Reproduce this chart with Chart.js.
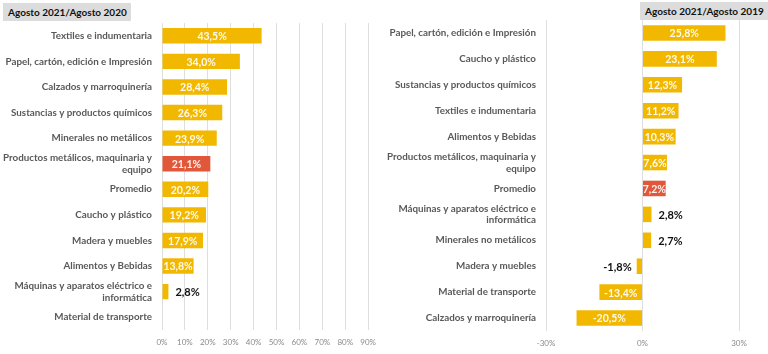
<!DOCTYPE html>
<html><head><meta charset="utf-8">
<script src="https://cdn.jsdelivr.net/npm/chart.js@4"></script>
<style>
html,body{margin:0;padding:0;background:#fff;}
#wrap{position:relative;width:768px;height:354px;overflow:hidden;font-family:Lato,"Open Sans",sans-serif;}
canvas{position:absolute;top:0;}
.ttl{position:absolute;background:#dcdcdc;color:#111;font:bold 10px Lato,sans-serif;line-height:18px;padding:0 5px;white-space:nowrap;z-index:2;}
</style></head><body>
<div id="wrap">
<canvas id="c1" width="384" height="354" style="left:0;width:384px;height:354px"></canvas>
<canvas id="c2" width="384" height="354" style="left:384px;width:384px;height:354px"></canvas>
<div class="ttl" id="t1" style="left:3px;top:3px;width:118px;">Agosto 2021/Agosto 2020</div>
<div class="ttl" id="t2" style="left:640px;top:2px;width:118px;">Agosto 2021/Agosto 2019</div>
</div>
<script>
const categories2020 = ["Textiles e indumentaria","Papel, cartón, edición e Impresión","Calzados y marroquinería","Sustancias y productos químicos","Minerales no metálicos",["Productos metálicos, maquinaria y","equipo"],"Promedio","Caucho y plástico","Madera y muebles","Alimentos y Bebidas",["Máquinas y aparatos eléctrico e","informática"],"Material de transporte"];
const values2020 = [43.5,34.0,28.4,26.3,23.9,21.1,20.2,19.2,17.9,13.8,2.8,null];
const highlight2020 = "Productos metálicos, maquinaria y";

const categories2019 = ["Papel, cartón, edición e Impresión","Caucho y plástico","Sustancias y productos químicos","Textiles e indumentaria","Alimentos y Bebidas",["Productos metálicos, maquinaria y","equipo"],"Promedio",["Máquinas y aparatos eléctrico e","informática"],"Minerales no metálicos","Madera y muebles","Material de transporte","Calzados y marroquinería"];
const values2019 = [25.8,23.1,12.3,11.2,10.3,7.6,7.2,2.8,2.7,-1.8,-13.4,-20.5];
const highlight2019 = "Promedio";

const ticks2020 = [0,10,20,30,40,50,60,70,80,90];
const ticks2019 = [-30,0,30];

const YELLOW = "#F2B800";
const RED = "#E0573A";
const FONT = "Lato, 'Open Sans', sans-serif";

function fmt(v){ return v.toFixed(1).replace('.',',') + '%'; }
function catName(c){ return Array.isArray(c) ? c[0] : c; }

const labelPlugin = {
  id:'barLabels',
  afterDatasetsDraw(chart){
    const ctx = chart.ctx;
    const meta = chart.getDatasetMeta(0);
    const data = chart.data.datasets[0].data;
    ctx.save();
    meta.data.forEach((bar,i)=>{
      const v = data[i];
      if (v === null || v === undefined) return;
      const t = fmt(v);
      ctx.textBaseline = 'middle';
      if (Math.abs(v) < 5) {
        ctx.font = "bold 11px " + FONT;
        ctx.fillStyle = '#111';
        if (v >= 0) { ctx.textAlign='left'; ctx.fillText(t, bar.x + 7, bar.y+1); }
        else { ctx.textAlign='right'; ctx.fillText(t, bar.x - 5, bar.y+1); }
      } else {
        ctx.font = "bold 10.5px " + FONT;
        ctx.fillStyle = 'rgba(255,255,255,0.92)';
        ctx.textAlign='center';
        ctx.fillText(t, (bar.x + bar.base)/2, bar.y+1);
      }
    });
    ctx.restore();
  }
};

function makeChart(id, cats, vals, hl, tickVals, opts){
  return new Chart(document.getElementById(id), {
    type:'bar',
    data:{ labels:cats, datasets:[{ data:vals,
      backgroundColor: cats.map(c => catName(c)===hl ? RED : YELLOW),
      barPercentage:0.6, categoryPercentage:1.0 }]},
    options:{
      indexAxis:'y', responsive:false, animation:false,
      layout:{ padding:{ top:opts.top, right:opts.right, left:0, bottom:0 } },
      plugins:{ legend:{display:false}, tooltip:{enabled:false} },
      scales:{
        y:{
          grid:{ display:false, drawTicks:false },
          border:{ display:false },
          ticks:{ color:'#595959', font:{ family:FONT, size:9.8, weight:'bold' }, padding:10, autoSkip:false },
          afterFit(s){ s.width = opts.yWidth; }
        },
        x:{
          min:tickVals[0], max:tickVals[tickVals.length-1],
          afterBuildTicks(s){ s.ticks = tickVals.map(v=>({value:v})); },
          grid:{ color:'#dedede', drawTicks:false, lineWidth:1 },
          border:{ display:false },
          ticks:{ color:'#8a8a8a', font:{ family:FONT, size:8 }, padding:8, callback:v=>v+'%' },
          afterFit(s){ s.height = opts.xHeight; }
        }
      }
    },
    plugins:[labelPlugin]
  });
}

makeChart('c1', categories2020, values2020, highlight2020, ticks2020, {top:23, right:14, yWidth:162, xHeight:24});
makeChart('c2', categories2019, values2019, highlight2019, ticks2019, {top:20, right:29, yWidth:162, xHeight:23});
</script>
</body></html>
